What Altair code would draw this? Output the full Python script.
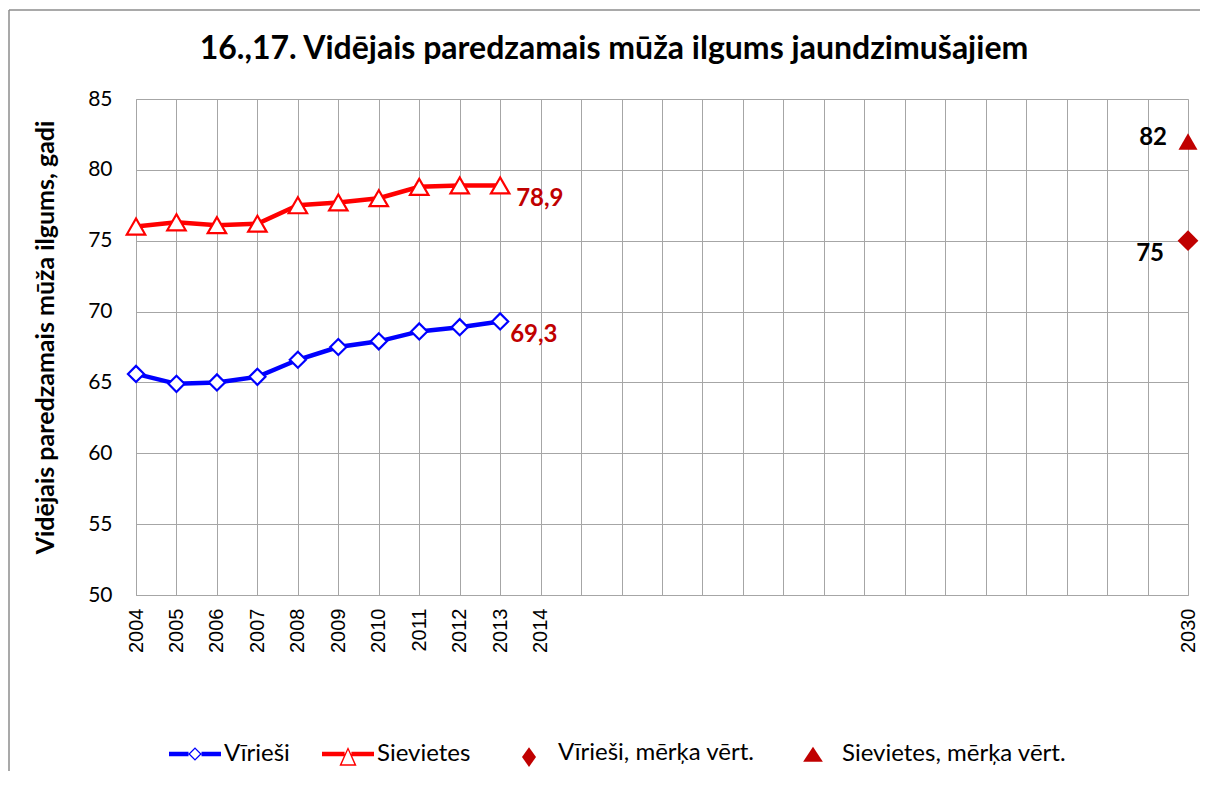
import altair as alt
import pandas as pd

# ---- data ----
years = [2004, 2005, 2006, 2007, 2008, 2009, 2010, 2011, 2012, 2013]
men = [65.6, 64.9, 65.0, 65.4, 66.6, 67.5, 67.9, 68.6, 68.9, 69.3]
women = [76.0, 76.3, 76.1, 76.2, 77.5, 77.7, 78.0, 78.8, 78.9, 78.9]
target_year = [2030]
men_target = [75]
women_target = [82]
x_ticks = list(range(2004, 2031))
y_ticks = [50, 55, 60, 65, 70, 75, 80, 85]
legend_labels = ["Vīrieši", "Sievietes", "Vīrieši, mērķa vērt.", "Sievietes, mērķa vērt."]

BLUE = "#0000FF"
RED = "#FF0000"
DARK = "#C00000"
GRID = "#a6a6a6"

men_df = pd.DataFrame({"year": years, "value": men})
women_df = pd.DataFrame({"year": years, "value": women})
men_last = pd.DataFrame({"year": years[-1:], "value": men[-1:],
                         "label": [f"{men[-1]:.1f}".replace(".", ",")]})
women_last = pd.DataFrame({"year": years[-1:], "value": women[-1:],
                           "label": [f"{women[-1]:.1f}".replace(".", ",")]})
men_t = pd.DataFrame({"year": target_year, "value": men_target,
                      "label": [str(v) for v in men_target]})
women_t = pd.DataFrame({"year": target_year, "value": women_target,
                        "label": [str(v) for v in women_target]})
leg_df = pd.DataFrame({"legend": legend_labels})

x_enc = alt.X(
    "year:Q",
    scale=alt.Scale(domain=[2004, 2030], nice=False, zero=False),
    axis=alt.Axis(
        values=x_ticks, format="d", title=None, ticks=False,
        labelExpr="(datum.value <= 2014 || datum.value >= 2030) ? datum.label : ''",
        labelAngle=-90, labelPadding=13, labelFont="Liberation Sans", labelFontSize=20,
        labelColor="black", labelOverlap=False, labelFlush=False,
        grid=True, gridColor=GRID, gridWidth=1, domainColor=GRID, domainWidth=1,
    ),
)
y_enc = alt.Y(
    "value:Q",
    scale=alt.Scale(domain=[50, 85], nice=False, zero=False),
    axis=alt.Axis(
        values=y_ticks, ticks=False, labelPadding=24, labelFont="Lato", labelFontSize=21,
        labelColor="black", grid=True, gridColor=GRID, gridWidth=1,
        domainColor=GRID, domainWidth=1,
        title="Vidējais paredzamais mūža ilgums, gadi", titleFont="Lato",
        titleFontSize=25, titleFontWeight="bold", titleColor="black",
        titleX=-91, titleY=238, titleAngle=-90, titleAlign="center", titleBaseline="middle",
    ),
)

men_line = alt.Chart(men_df).mark_line(color=BLUE, strokeWidth=4.5).encode(x=x_enc, y=y_enc)
women_line = alt.Chart(women_df).mark_line(color=RED, strokeWidth=4.5).encode(x=x_enc, y=y_enc)
men_pts = alt.Chart(men_df).mark_point(
    shape="diamond", filled=True, fill="white", stroke=BLUE, strokeWidth=2.2, size=260, opacity=1
).encode(x=x_enc, y=y_enc)
women_pts = alt.Chart(women_df).mark_point(
    shape="triangle-up", filled=True, fill="white", stroke=RED, strokeWidth=2.2, size=340, opacity=1
).encode(x=x_enc, y=y_enc)

men_tp = alt.Chart(men_t).mark_point(
    shape="diamond", filled=True, fill=DARK, size=430, opacity=1
).encode(x=x_enc, y=y_enc)
women_tp = alt.Chart(women_t).mark_point(
    shape="triangle-up", filled=True, fill=DARK, size=360, opacity=1
).encode(x=x_enc, y=y_enc)

men_lbl = alt.Chart(men_last).mark_text(
    align="left", baseline="middle", dx=10, dy=14, font="Lato", fontSize=24,
    fontWeight="bold", color=DARK
).encode(x=x_enc, y=y_enc, text="label:N")
women_lbl = alt.Chart(women_last).mark_text(
    align="left", baseline="middle", dx=16, dy=14, font="Lato", fontSize=24,
    fontWeight="bold", color=DARK
).encode(x=x_enc, y=y_enc, text="label:N")
men_tl = alt.Chart(men_t).mark_text(
    align="right", baseline="middle", dx=-24, dy=13, font="Lato", fontSize=24,
    fontWeight="bold", color="black"
).encode(x=x_enc, y=y_enc, text="label:N")
women_tl = alt.Chart(women_t).mark_text(
    align="right", baseline="middle", dx=-21, dy=-4, font="Lato", fontSize=24,
    fontWeight="bold", color="black"
).encode(x=x_enc, y=y_enc, text="label:N")

# legend symbols: line + hollow marker drawn as one filled path (holes via winding)
paths = [
    "M-1,-0.09L-0.25,-0.09L-0.25,0.09L-1,0.09Z M0.25,-0.09L1,-0.09L1,0.09L0.25,0.09Z "
    "M0,-0.26L0.26,0L0,0.26L-0.26,0Z M0,-0.19L-0.19,0L0,0.19L0.19,0Z",
    "M-1,-0.09L-0.13,-0.09L-0.13,0.09L-1,0.09Z M0.13,-0.09L1,-0.09L1,0.09L0.13,0.09Z "
    "M0,-0.27L0.33,0.45L-0.33,0.45Z M0,-0.15L-0.24,0.39L0.24,0.39Z",
    "M0,-0.23L0.27,0.15L0,0.53L-0.27,0.15Z",
    "M0,-0.28L0.38,0.3L-0.38,0.3Z",
]
leg = alt.Legend(
    title=None, orient="none", legendX=33, legendY=628, direction="horizontal",
    columns=4, columnPadding=32, labelOffset=3, symbolSize=2704,
    symbolStrokeWidth=0, symbolOpacity=1, labelFont="Lato", labelFontSize=24,
    labelColor="black", labelLimit=400, padding=0,
)
legend_layer = alt.Chart(leg_df).mark_point(filled=True, opacity=0).encode(
    x=alt.value(0), y=alt.value(0),
    fill=alt.Fill("legend:N", scale=alt.Scale(domain=legend_labels,
                                              range=[BLUE, RED, DARK, DARK]), legend=leg),
    shape=alt.Shape("legend:N", scale=alt.Scale(domain=legend_labels, range=paths), legend=leg),
)

# chart-area frame (left and top edges)
frame_df = pd.DataFrame({"k": [0]})
frame_left = alt.Chart(frame_df).mark_rule(color="#8c8c8c", strokeWidth=1.5).encode(
    x=alt.value(-127), y=alt.value(-89), y2=alt.value(700))
frame_top = alt.Chart(frame_df).mark_rule(color="#8c8c8c", strokeWidth=1.5).encode(
    x=alt.value(-127), x2=alt.value(1070), y=alt.value(-89))

chart = alt.layer(
    frame_left, frame_top,
    men_line, women_line, men_pts, women_pts, men_tp, women_tp,
    men_lbl, women_lbl, men_tl, women_tl, legend_layer,
).properties(
    width=1052, height=496,
    autosize=alt.AutoSizeParams(type="none"),
    padding={"left": 128, "top": 91, "right": 12, "bottom": 176},
    title=alt.TitleParams(
        "16.,17. Vidējais paredzamais mūža ilgums jaundzimušajiem",
        font="Lato", fontSize=32, fontWeight="bold", color="black",
        anchor="middle", dx=-48, dy=92, offset=35, frame="group",
    ),
).configure_view(stroke=None).configure(background="white")

chart.save("out.html", embed_options={"renderer": "svg", "actions": False})
